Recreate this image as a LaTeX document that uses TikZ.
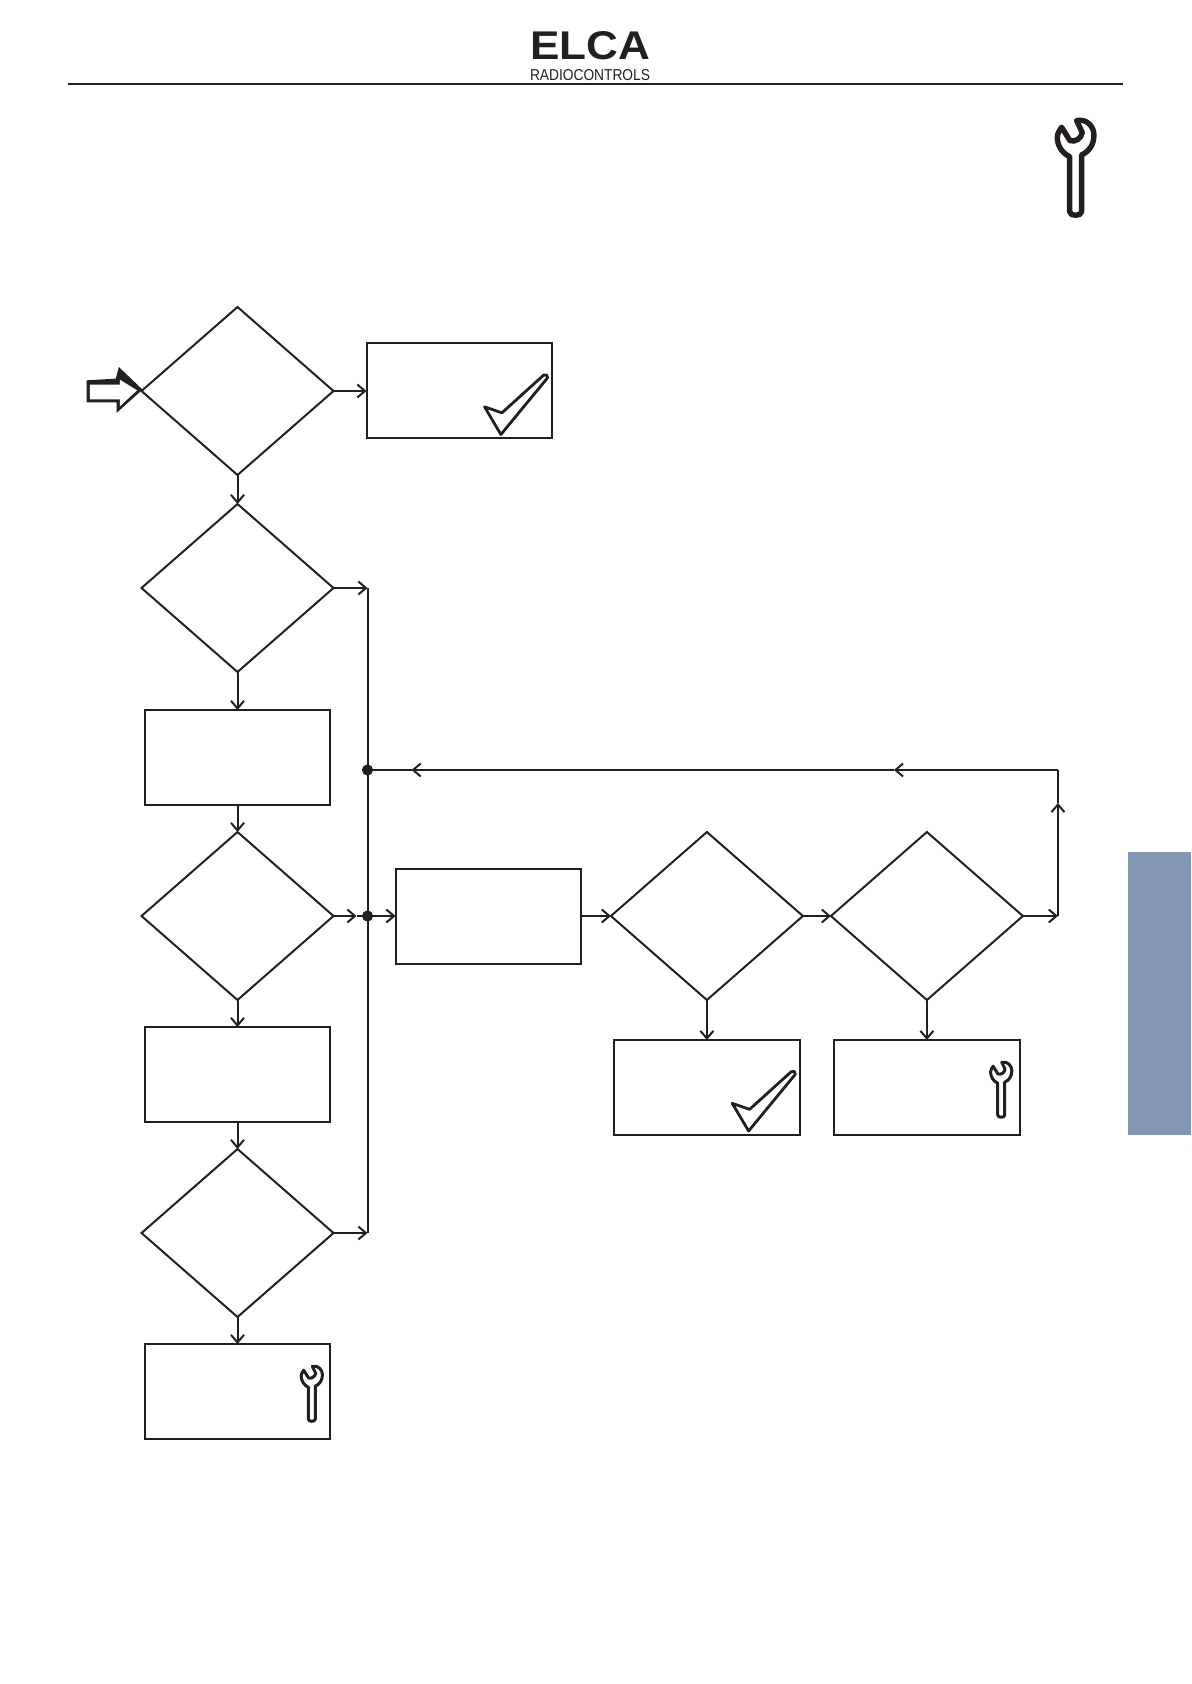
\documentclass[tikz,border=0pt]{standalone}
\usepackage{fontspec}
\setmainfont{Liberation Sans}
\usetikzlibrary{arrows.meta, positioning, shapes.geometric, calc}
\definecolor{inkdark}{HTML}{231F20}
\definecolor{tabblue}{HTML}{8298B5}

\begin{document}
\begin{tikzpicture}[
      x=1pt, y=1pt,
      line width=1pt, inkdark,
      box/.style={rectangle, draw=inkdark, minimum width=92.7pt, minimum height=47.5pt,
                  inner sep=0pt, outer sep=0pt},
      query/.style={diamond, draw=inkdark, minimum width=96pt, minimum height=84pt,
                  inner sep=0pt, outer sep=0pt},
      jdot/.style={circle, fill=inkdark, minimum size=5.6pt, inner sep=0pt, outer sep=0pt},
      arrow/.style={-{Straight Barb[length=3.8pt, width=6.5pt]}, inkdark},
      wrench/.pic={
        \draw[line join=round, x=1pt, y=1pt] (-7,19.67) -- (-2.83,13)
          .. controls (-0.33,12) and (3,14.17) .. (3.33,17) -- (0.5,23)
          .. controls (5.5,24.17) and (9.17,20) .. (9.17,15.83)
          .. controls (9.17,11) and (6.8,7.6) .. (3,5.83) -- (3,-22.5)
          .. controls (3,-25) and (-3,-25) .. (-3,-22.5) -- (-3,5)
          .. controls (-6.6,6.6) and (-9.17,10.4) .. (-9.17,14.67)
          .. controls (-9.17,16.33) and (-8.17,18) .. (-7,19.67) -- cycle;
      },
      tick/.pic={
        \draw[line join=round, line width=1.4pt, x=1pt, y=1pt] (-4.17,31.67) -- (-25,12.83)
          -- (-33.67,15.83) -- (-25.5,2) -- (-2.17,30.33)
          .. controls (-1.8,31.6) and (-3,32.4) .. (-4.17,31.67) -- cycle;
      },
      startmark/.pic={
        \fill[inkdark, x=1pt, y=1pt] (-27.5,5.33) -- (-12.83,6.17) -- (-11.33,12) -- (0.5,0.67)
          -- (-12.5,-11) -- (-12.5,-5.67) -- (-27.5,-5.67) -- cycle;
        \fill[white, x=1pt, y=1pt] (-25.83,3.17) -- (-10.83,3.17) -- (-10.83,5.67) -- (-2.2,0.33)
          -- (-10.83,-7.67) -- (-10.83,-4.17) -- (-25.83,-4.17) -- cycle;
      }
    ]
    \useasboundingbox (0,0) rectangle (595.5,-842);

    % Page header
    \node[inner sep=0pt] (elca) at (295,-23) {\resizebox{60pt}{14pt}{\bfseries ELCA}};
    \node[inner sep=0pt, below=3.5pt of elca] (radio) {\resizebox{60pt}{5.5pt}{RADIOCONTROLS}};
    \coordinate (ruleleft) at (34,-41.8);
    \coordinate (ruleright) at (561.5,-41.8);
    \draw (ruleleft) -- (ruleright);
    \pic[line width=2.7pt] at (537.8,-83.3) {wrench};
    \node[fill=tabblue, minimum width=31.7pt, minimum height=141.5pt, inner sep=0pt, outer sep=0pt, anchor=north east] (tab) at (595.5,-426.2) {};

    % Left column
    \node[query] (qa) at (118.75,-195.5) {};
    \node[box, right=16.5pt of qa] (okbox) {};
    \node[query, below=14.5pt of qa] (qb) {};
    \node[box, below=19pt of qb] (boxa) {};
    \node[query, below=13.5pt of boxa] (qc) {};
    \node[box, below=13.5pt of qc] (boxb) {};
    \node[query, below=13.5pt of boxb] (qd) {};
    \node[box, below=13.5pt of qd] (failbox) {};

    % Right branch
    \node[box, right=31pt of qc] (procbox) {};
    \node[query, right=15pt of procbox] (qe) {};
    \node[query, right=14pt of qe] (qf) {};
    \node[box, below=20pt of qe] (okboxb) {};
    \node[box, below=20pt of qf] (failboxb) {};

    % Marks inside the boxes
    \pic at (okbox.south east) {tick};
    \pic at (okboxb.south east) {tick};
    \pic[scale=.58, line width=1.5pt] at ($(failbox.south east)+(-9.2,23)$) {wrench};
    \pic[scale=.58, line width=1.5pt] at ($(failboxb.south east)+(-9.2,23)$) {wrench};
    \pic at (qa.west) {startmark};

    % Junctions and corners
    \node[jdot] (jmid) at ($(qc.east)+(17,0)$) {};
    \node[jdot] (jup) at ($(jmid)+(0,73)$) {};
    \coordinate (bustop) at (qb.east -| jmid);
    \coordinate (busbot) at (qd.east -| jmid);
    \coordinate (jin) at ($(jmid)+(-5.5,0)$);
    \coordinate (rmid) at ($(qf.east)+(17.5,0)$);
    \coordinate (rup) at ($(rmid)+(0,56.5)$);
    \coordinate (rtop) at (rmid |- jup);
    \coordinate (backa) at ($(rtop)+(-82,0)$);
    \coordinate (backb) at ($(jup)+(22,0)$);

    % Flow arrows
    \draw[arrow] (qa) -- (okbox);
    \draw[arrow] (qa) -- (qb);
    \draw[arrow] (qb) -- (boxa);
    \draw[arrow] (boxa) -- (qc);
    \draw[arrow] (qc) -- (boxb);
    \draw[arrow] (boxb) -- (qd);
    \draw[arrow] (qd) -- (failbox);
    \draw[arrow] (qb.east) -- (bustop);
    \draw[arrow] (qd.east) -- (busbot);
    \draw (bustop) -- (busbot);
    \draw[arrow] (qc.east) -- (jin);
    \draw (jin) -- (jmid);
    \draw[arrow] (jmid) -- (procbox);
    \draw[arrow] (procbox) -- (qe);
    \draw[arrow] (qe) -- (qf);
    \draw[arrow] (qe) -- (okboxb);
    \draw[arrow] (qf) -- (failboxb);

    % Return path
    \draw[arrow] (qf.east) -- (rmid);
    \draw[arrow] (rmid) -- (rup);
    \draw (rup) -- (rtop);
    \draw[arrow] (rtop) -- (backa);
    \draw[arrow] (backa) -- (backb);
    \draw (backb) -- (jup);
  \end{tikzpicture}
\end{document}
